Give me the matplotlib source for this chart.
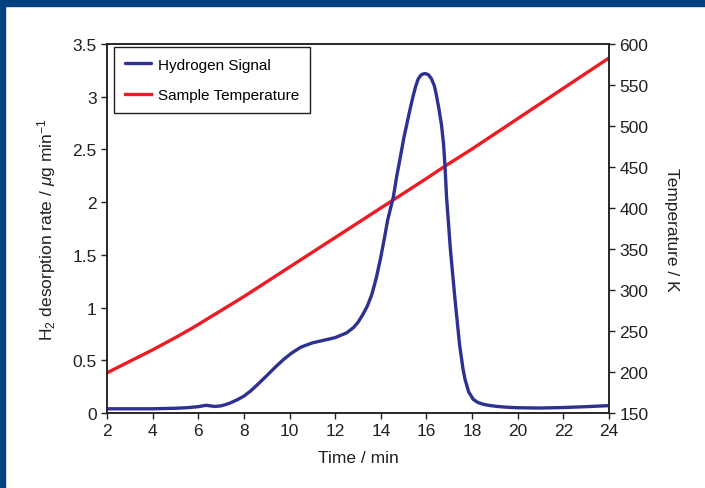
import numpy as np
import matplotlib
matplotlib.use("Agg")
import matplotlib.pyplot as plt

plt.rcParams['font.family'] = ['Liberation Sans', 'DejaVu Sans']
plt.rcParams['mathtext.fontset'] = 'custom'
plt.rcParams['mathtext.rm'] = 'Liberation Sans'
plt.rcParams['mathtext.it'] = 'Liberation Sans:italic'

# Hydrogen desorption signal (time in min, rate in ug/min)
h2_time = [2.0, 3.0, 4.0, 5.0, 5.5, 6.0, 6.2, 6.35, 6.5, 6.75, 7.0, 7.2, 7.4, 7.7,
           8.0, 8.3, 8.6, 9.0, 9.4, 9.75, 10.1, 10.5, 11.0, 11.5, 12.0, 12.5,
           12.8, 13.0, 13.2, 13.4, 13.6, 13.8, 14.0, 14.15, 14.3, 14.55, 14.7, 14.85,
           15.0, 15.13, 15.28, 15.42, 15.53, 15.64, 15.78, 15.93, 16.08,
           16.22, 16.35, 16.44, 16.55, 16.66, 16.75, 16.81, 16.88, 17.05, 17.25, 17.45,
           17.6, 17.69, 17.85, 18.05, 18.25, 18.5, 18.75, 19.07, 19.5, 20.0, 20.97,
           22.0, 23.0, 24.0]
h2_rate = [0.040, 0.040, 0.040, 0.045, 0.050, 0.060, 0.068, 0.073, 0.068, 0.062, 0.068, 0.080, 0.095, 0.125,
           0.160, 0.210, 0.270, 0.354, 0.440, 0.510, 0.570, 0.625, 0.665, 0.690, 0.715, 0.760,
           0.810, 0.860, 0.930, 1.010, 1.120, 1.280, 1.480, 1.650, 1.830, 2.050, 2.250, 2.420,
           2.600, 2.730, 2.880, 3.010, 3.100, 3.170, 3.210, 3.220, 3.210,
           3.170, 3.100, 3.010, 2.880, 2.730, 2.550, 2.350, 2.050, 1.550, 1.080, 0.650,
           0.420, 0.320, 0.200, 0.130, 0.100, 0.082, 0.072, 0.063, 0.055, 0.050, 0.047,
           0.052, 0.060, 0.070]

# Sample temperature (K)
temp_time = [2, 3, 4, 5, 5.64, 6, 7, 8, 10, 12, 14, 14.5, 16, 16.81, 18, 20, 22, 24]
temp_k = [199, 213, 227, 242, 252, 258, 275, 292, 328, 364, 400, 409, 436, 451, 472, 509, 546, 583]

fig = plt.figure(figsize=(7.05, 4.89), dpi=100)
fig.patch.set_facecolor('white')
# dark blue frame (top and left edges)
fig.add_artist(plt.Rectangle((0, 1 - 7 / 489), 1, 7 / 489, transform=fig.transFigure,
                             color='#00417f', zorder=0))
fig.add_artist(plt.Rectangle((0, 0), 5 / 705, 1, transform=fig.transFigure,
                             color='#00417f', zorder=0))

ax = fig.add_axes([107 / 705, 75 / 489, 502 / 705, 369 / 489])
ax2 = ax.twinx()

line_h, = ax.plot(h2_time, h2_rate, color='#2e3192', lw=2.4, label='Hydrogen Signal',
                  solid_capstyle='round', solid_joinstyle='round')
line_t, = ax2.plot(temp_time, temp_k, color='#ed1c24', lw=2.4, label='Sample Temperature')
ax.set_zorder(ax2.get_zorder() + 1)
ax.patch.set_visible(False)

ax.set_xlim(2, 24)
ax.set_ylim(0, 3.5)
ax2.set_ylim(150, 600)
ax.set_xticks(np.arange(2, 25, 2))
ax.set_yticks(np.arange(0, 3.6, 0.5))
ax.set_yticklabels(['0', '0.5', '1', '1.5', '2', '2.5', '3', '3.5'])
ax2.set_yticks(np.arange(150, 601, 50))

for a in (ax, ax2):
    a.tick_params(direction='out', length=4.5, width=1, labelsize=12.5, colors='#231f20', pad=3)
    for s in a.spines.values():
        s.set_linewidth(1.1)
        s.set_color('#231f20')

ax.set_xlabel('Time / min', fontsize=12.5, labelpad=8, color='#231f20')
ax.set_ylabel(r'H$_2$ desorption rate / $\mathit{\mu}$g min$^{-1}$', fontsize=12.5,
              labelpad=10, color='#231f20')
ax2.set_ylabel('Temperature / K', fontsize=12.5, rotation=270, labelpad=22, color='#231f20')

leg = ax.legend([line_h, line_t], ['Hydrogen Signal', 'Sample Temperature'],
                loc='upper left', bbox_to_anchor=(0.014, 0.992), borderaxespad=0,
                fontsize=11, fancybox=False, edgecolor='#231f20', framealpha=1,
                handlelength=1.7, handletextpad=0.5, labelspacing=1.1, borderpad=0.7)
leg.get_frame().set_linewidth(1.0)

fig.savefig('out.png', dpi=100)
